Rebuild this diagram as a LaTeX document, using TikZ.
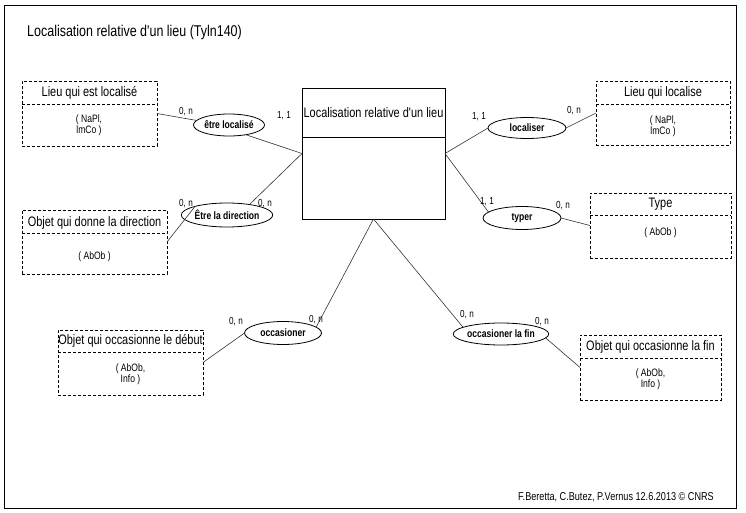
\documentclass[tikz,border=0pt]{standalone}
\usepackage{fontspec}
\newfontfamily\lsans{Liberation Sans}[FakeStretch=0.8]
\usetikzlibrary{shapes.geometric}
\begin{document}
\begin{tikzpicture}[x=1pt,y=-1pt,
  ent/.style={draw, dash pattern=on 3pt off 2pt, line width=0.7pt, inner sep=0pt, outer sep=0pt},
  divline/.style={dash pattern=on 3pt off 2pt, line width=0.7pt},
  rel/.style={draw, ellipse, line width=0.8pt, inner sep=0pt, outer sep=0pt, font=\lsans\fontsize{10.7}{10}\selectfont\bfseries},
  card/.style={inner sep=0pt, font=\lsans\fontsize{10.2}{10}\selectfont},
  etitle/.style={inner sep=0pt, font=\lsans\fontsize{13.7}{14}\selectfont},
  attr/.style={inner sep=0pt, align=center, font=\lsans\fontsize{10.7}{9}\selectfont},
  link/.style={draw=black!80, line width=0.6pt},
  frame/.style={draw, line width=1pt}]
\useasboundingbox (0,0) rectangle (746,513);
\draw[frame] (4,6) rectangle (736,508);
\node[inner sep=0pt, anchor=west, font=\lsans\fontsize{15.6}{16}\selectfont] (title) at (27,32) {Localisation relative d'un lieu (Tyln140)};

% central entity
\node[draw, line width=0.9pt, minimum width=143pt, minimum height=131pt, inner sep=0pt, outer sep=0pt] (C) at (373.5,153.5) {};
\draw[line width=0.9pt] (C.west |- 0,137) -- (C.east |- 0,137);
\node[etitle] (Ct) at (373.5,112.5) {Localisation relative d'un lieu};

% entity boxes
\node[ent, minimum width=135pt, minimum height=65pt] (L1) at (89.5,113.5) {};
\draw[divline] (L1.west |- 0,104) -- (L1.east |- 0,104);
\node[etitle] (L1t) at (89.5,93) {Lieu qui est localisé};
\node[attr] (L1a) at (89,125.5) {( NaPl,\\lmCo )};

\node[ent, minimum width=145pt, minimum height=64pt] (D) at (94.5,242) {};
\draw[divline] (D.west |- 0,233) -- (D.east |- 0,233);
\node[etitle] (Dt) at (94.5,223) {Objet qui donne la direction};
\node[attr] (Da) at (94.5,257) {( AbOb )};

\node[ent, minimum width=134pt, minimum height=64pt] (L2) at (663,113) {};
\draw[divline] (L2.west |- 0,104) -- (L2.east |- 0,104);
\node[etitle] (L2t) at (663,92.5) {Lieu qui localise};
\node[attr] (L2a) at (663,126.5) {( NaPl,\\lmCo )};

\node[ent, minimum width=141pt, minimum height=65pt] (T) at (660.5,225.5) {};
\draw[divline] (T.west |- 0,215) -- (T.east |- 0,215);
\node[etitle] (Tt) at (660.5,204) {Type};
\node[attr] (Ta) at (660.5,233) {( AbOb )};

\node[ent, minimum width=145pt, minimum height=65pt] (B) at (130.5,362.5) {};
\draw[divline] (B.west |- 0,352) -- (B.east |- 0,352);
\node[etitle] (Bt) at (130.5,341) {Objet qui occasionne le début};
\node[attr] (Ba) at (130.5,374.5) {( AbOb,\\Info )};

\node[ent, minimum width=141pt, minimum height=65pt] (F) at (650.5,367.5) {};
\draw[divline] (F.west |- 0,358) -- (F.east |- 0,358);
\node[etitle] (Ft) at (650.5,347) {Objet qui occasionne la fin};
\node[attr] (Fa) at (650.5,379.5) {( AbOb,\\Info )};

% relations
\node[rel, minimum width=71pt, minimum height=22pt] (e1) at (229,125) {être localisé};
\node[rel, minimum width=80pt, minimum height=24pt] (e2) at (227,215) {Être la direction};
\node[rel, minimum width=78pt, minimum height=21pt] (e3) at (527,128) {localiser};
\node[rel, minimum width=78pt, minimum height=23pt] (e4) at (522,218) {typer};
\node[rel, minimum width=77pt, minimum height=23pt] (e5) at (283,333) {occasioner};
\node[rel, minimum width=79pt, minimum height=22pt] (e6) at (501,334) {occasioner la fin};

% connectors
\draw[link] (L1.east) -- (e1.172);
\draw[link] (e1.-30) -- (C.west);
\draw[link] (C.west) -- (e2.25);
\draw[link] (e2.165) -- (D.east);
\draw[link] (C.east) -- (e3.180);
\draw[link] (e3.0) -- (L2.west);
\draw[link] (C.east) -- (e4.170);
\draw[link] (e4.0) -- (T.west);
\draw[link] (C.south) -- (e5.10);
\draw[link] (e5.180) -- (B.east);
\draw[link] (C.south) -- (e6.170);
\draw[link] (e6.-5) -- (F.west);

% cardinalities
\node[card] (c1a) at (186,112) {0, n};
\node[card] (c1b) at (284,116) {1, 1};
\node[card] (c2a) at (186,204) {0, n};
\node[card] (c2b) at (265,204) {0, n};
\node[card] (c3a) at (479,117) {1, 1};
\node[card] (c3b) at (574,111) {0, n};
\node[card] (c4a) at (487,202) {1, 1};
\node[card] (c4b) at (563,206) {0, n};
\node[card] (c5a) at (236,322) {0, n};
\node[card] (c5b) at (316,320) {0, n};
\node[card] (c6a) at (467,315) {0, n};
\node[card] (c6b) at (542,322) {0, n};

\node[inner sep=0pt, anchor=east, font=\lsans\fontsize{11.4}{12}\selectfont] (foot) at (714,497) {F.Beretta, C.Butez, P.Vernus 12.6.2013 © CNRS};
\end{tikzpicture}
\end{document}
